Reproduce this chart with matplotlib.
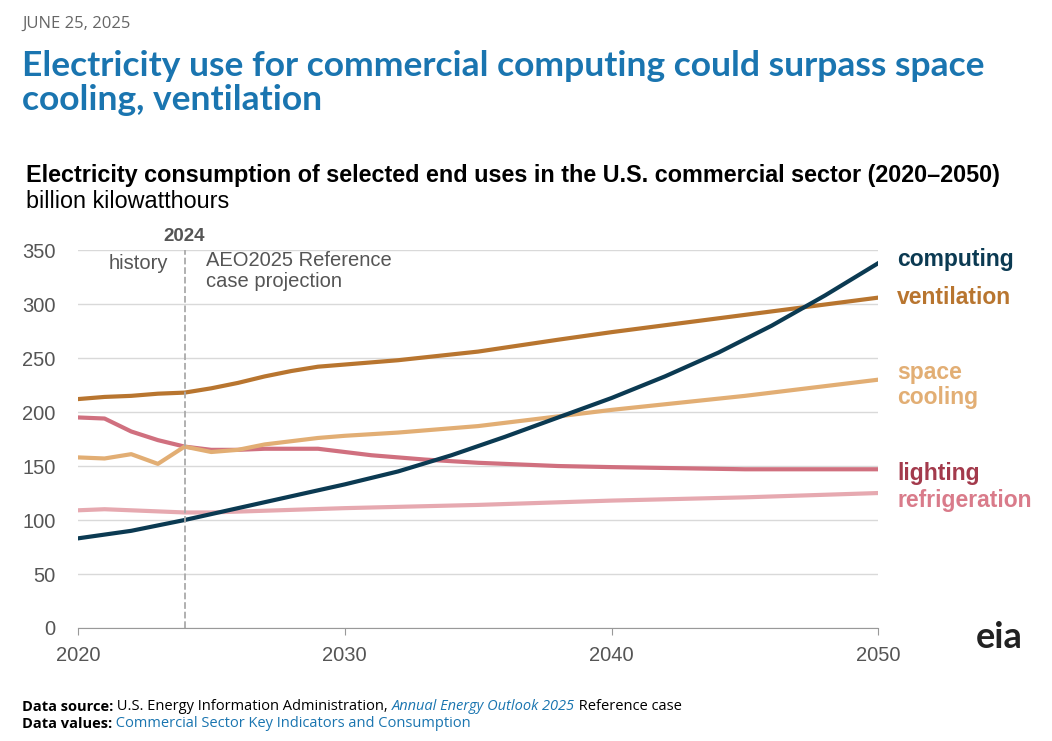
import matplotlib.pyplot as plt
from matplotlib.text import Annotation
plt.rcParams['font.family'] = ['Liberation Sans', 'DejaVu Sans']

years_c = [2020,2022,2024,2026,2028,2030,2032,2034,2036,2038,2040,2042,2044,2046,2048,2050]
computing = [83,90,100,111,122,133,145,160,177,195,213,233,255,280,308,338]
years_v = [2020,2021,2022,2023,2024,2025,2026,2027,2028,2029,2030,2032,2035,2038,2040,2045,2050]
ventilation = [212,214,215,217,218,222,227,233,238,242,244,248,256,267,274,290,306]
years_s = [2020,2021,2022,2023,2024,2025,2026,2027,2028,2029,2030,2032,2035,2038,2040,2045,2050]
cooling = [158,157,161,152,168,163,165,170,173,176,178,181,187,196,202,215,230]
years_l = [2020,2021,2022,2023,2024,2025,2026,2027,2028,2029,2030,2031,2032,2033,2035,2038,2040,2045,2050]
lighting = [195,194,182,174,168,165,165,166,166,166,163,160,158,156,153,150,149,147,147]
years_r = [2020,2021,2022,2023,2024,2025,2030,2035,2040,2045,2050]
refrig = [109,110,109,108,107,107,111,114,118,121,125]

fig = plt.figure(figsize=(10.52,7.41), dpi=100)
ax = fig.add_axes([0.074,0.1525,0.761,0.51])
ax.set_xlim(2020,2050); ax.set_ylim(0,350)
ax.set_yticks(range(0,351,50)); ax.set_xticks([2020,2030,2040,2050])
ax.grid(axis='y', color='#d9d9d9', lw=1); ax.set_axisbelow(True)
for s in ['top','right','left']: ax.spines[s].set_visible(False)
ax.spines['bottom'].set_color('#999999')
ax.tick_params(axis='y', length=0, labelsize=14.5, colors='#555555', pad=16)
ax.tick_params(axis='x', length=5, labelsize=14.5, colors='#555555', color='#999999', pad=8)

ax.plot(years_r, refrig, color='#e6a9b0', lw=3)
ax.plot(years_l, lighting, color='#d0707f', lw=3)
ax.plot(years_s, cooling, color='#e2ae74', lw=3)
ax.plot(years_v, ventilation, color='#b8752f', lw=3)
ax.plot(years_c, computing, color='#0b3a52', lw=3)
ax.axvline(2024, color='#aaaaaa', ls='--', lw=1.3)
ax.text(2024, 355, '2024', ha='center', va='bottom', fontsize=13.5, fontweight='bold', color='#555555')
ax.text(2023.4, 338, 'history', ha='right', va='center', fontsize=14.5, color='#555555')
ax.text(2024.8, 349, 'AEO2025 Reference\ncase projection', ha='left', va='top', fontsize=14.5, color='#555555', linespacing=1.1)

lab = dict(fontsize=16.5, fontweight='bold', ha='left', va='center', clip_on=False)
ax.text(2050.7, 341, 'computing', color='#0b3a52', **lab)
ax.text(2050.7, 306, 'ventilation', color='#b8752f', **lab)
ax.text(2050.7, 225, 'space\ncooling', color='#e2ae74', linespacing=1.15, **lab)
ax.text(2050.7, 143, 'lighting', color='#a33a4c', **lab)
ax.text(2050.7, 118, 'refrigeration', color='#d97b8a', **lab)

fig.text(0.021,0.968,'JUNE 25, 2025', fontsize=12, color='#666666', va='center', family='Open Sans')
fig.text(0.021,0.888,'Electricity use for commercial computing could surpass space\ncooling, ventilation', fontsize=25.5, fontweight='bold', color='#1a75b0', va='center', linespacing=1.05, family='Lato')
fig.text(0.025,0.763,'Electricity consumption of selected end uses in the U.S. commercial sector (2020–2050)', fontsize=16.8, fontweight='bold', color='black', va='center')
fig.text(0.025,0.728,'billion kilowatthours', fontsize=16.8, color='black', va='center')

def chain(parts, y):
    prev = None
    for txt, kw in parts:
        if prev is None:
            prev = fig.text(0.021, y, txt, fontsize=10.5, va='bottom', family='Open Sans', **kw)
        else:
            prev = fig.add_artist(Annotation(txt, xy=(1,0), xycoords=prev, va='bottom', ha='left', fontsize=10.5, family='Open Sans', **kw))
chain([('Data source:', dict(fontweight='bold')), (' U.S. Energy Information Administration, ', {}),
       ('Annual Energy Outlook 2025', dict(style='italic', color='#1a75b0')), (' Reference case', {})], 0.037)
chain([('Data values:', dict(fontweight='bold')), (' Commercial Sector Key Indicators and Consumption', dict(color='#1a75b0'))], 0.013)
fig.text(0.95,0.14,'eia', fontsize=26, color='#222222', ha='center', va='center', family='Lato', fontweight='bold')
fig.savefig('out.png', dpi=100, facecolor='white')
